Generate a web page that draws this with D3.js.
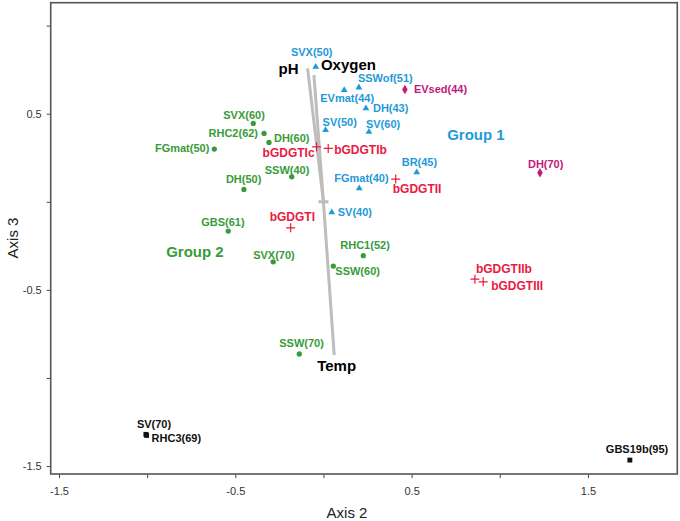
<!DOCTYPE html>
<html>
<head>
<meta charset="utf-8">
<script src="https://cdn.jsdelivr.net/npm/d3@7"></script>
<style>
    body { margin: 0; background: #fff; }
    svg { font-family: 'Liberation Sans', Arial, sans-serif; }
    .tick text { font-size: 11px; fill: #333; }
    .tick line { stroke: #444; }
    .ptLabel { font-size: 11px; font-weight: bold; }
    .redLabel { font-size: 12px; font-weight: bold; fill: #ea1a40; }
    .vecLabel { font-size: 15px; font-weight: bold; fill: #000; }
    .groupLabel { font-size: 15px; font-weight: bold; }
    .axisTitle { font-size: 15px; fill: #222; }
</style>
</head>
<body>
<svg width="680" height="521"></svg>
<script>
// **** data (Axis 2 vs Axis 3) ****

// Group 1 sites (blue triangles)
var blueNames = ['SVX(50)', 'SSWof(51)', 'EVmat(44)', 'DH(43)', 'SV(50)', 'SV(60)', 'BR(45)', 'FGmat(40)', 'SV(40)'];
var blueAxis2 = [-0.044, 0.201, 0.118, 0.241, 0.012, 0.258, 0.529, 0.203, 0.047];
var blueAxis3 = [0.766, 0.649, 0.634, 0.530, 0.407, 0.397, 0.167, 0.076, -0.060];

// sediment sites (magenta diamonds)
var magentaNames = ['EVsed(44)', 'DH(70)'];
var magentaAxis2 = [0.462, 1.228];
var magentaAxis3 = [0.638, 0.165];

// Group 2 sites (green dots)
var greenNames = ['SVX(60)', 'RHC2(62)', 'DH(60)', 'FGmat(50)', 'SSW(40)', 'DH(50)', 'GBS(61)', 'SVX(70)', 'RHC1(52)', 'SSW(60)', 'SSW(70)'];
var greenAxis2 = [-0.398, -0.337, -0.309, -0.619, -0.180, -0.451, -0.540, -0.285, 0.226, 0.056, -0.137];
var greenAxis3 = [0.445, 0.388, 0.337, 0.299, 0.142, 0.070, -0.166, -0.341, -0.306, -0.365, -0.864];

// outlier sites (black squares)
var blackNames = ['SV(70)', 'RHC3(69)', 'GBS19b(95)'];
var blackAxis2 = [-1.007, -1.003, 1.738];
var blackAxis3 = [-1.320, -1.326, -1.466];

// compounds (red crosses)
var redNames = ['bGDGTIc', 'bGDGTIb', 'bGDGTII', 'bGDGTI', 'bGDGTIIb', 'bGDGTIII'];
var redAxis2 = [-0.039, 0.027, 0.410, -0.186, 0.859, 0.906];
var redAxis3 = [0.312, 0.303, 0.129, -0.148, -0.439, -0.454];

// environmental vectors
var vectorNames = ['pH', 'Oxygen', 'Temp'];
var vectorAxis2 = [-0.090, -0.054, 0.061];
var vectorAxis3 = [0.757, 0.719, -0.870];

// group annotations
var groupNames = ['Group 1', 'Group 2'];
var groupAxis2 = [0.865, -0.729];
var groupAxis3 = [0.384, -0.284];

// tick values
var xTicks = [-1.5, -1, -0.5, 0, 0.5, 1, 1.5];
var xTickLabels = ['-1.5', '', '-0.5', '', '0.5', '', '1.5'];
var yTicks = [-1.5, -1, -0.5, 0, 0.5, 1];
var yTickLabels = ['-1.5', '', '-0.5', '', '0.5', ''];

// label placement relative to the marker: [dx, dy, anchor]
var labelPos = {
    'SVX(50)': [-4, -15, 'middle'], 'SSWof(51)': [-1, -9, 'start'], 'EVmat(44)': [-24, 8, 'start'],
    'DH(43)': [7, 0, 'start'], 'SV(50)': [-3, -8, 'start'], 'SV(60)': [-3, -8, 'start'],
    'BR(45)': [-15, -10, 'start'], 'FGmat(40)': [-25, -10, 'start'], 'SV(40)': [6, 0, 'start'],
    'EVsed(44)': [9, 0, 'start'], 'DH(70)': [-12, -9, 'start'],
    'SVX(60)': [-30, -8, 'start'], 'RHC2(62)': [-6, 0, 'end'], 'DH(60)': [5, -4, 'start'],
    'FGmat(50)': [-5, -1, 'end'], 'SSW(40)': [-27, -7, 'start'], 'DH(50)': [-18, -10, 'start'],
    'GBS(61)': [-27, -9, 'start'], 'SVX(70)': [-20, -7, 'start'], 'RHC1(52)': [-23, -11, 'start'],
    'SSW(60)': [2, 5, 'start'], 'SSW(70)': [-20, -11, 'start'],
    'SV(70)': [-9, -10, 'start'], 'RHC3(69)': [5, 3, 'start'], 'GBS19b(95)': [-24, -11, 'start'],
    'bGDGTIc': [-2, 6, 'end'], 'bGDGTIb': [6, 1, 'start'], 'bGDGTII': [-3, 10, 'start'],
    'bGDGTI': [-21, -11, 'start'], 'bGDGTIIb': [1, -10, 'start'], 'bGDGTIII': [8, 4, 'start'],
    'pH': [-9, 0, 'end'], 'Oxygen': [7, -11, 'start'], 'Temp': [-17, 11, 'start']
};

var svg = d3.select('svg');

// plot frame in pixels
var frame = { l: 50.7, r: 677.3, t: 2.7, b: 474 };

var xScale = d3.scaleLinear().domain([-1.547, 2.007]).range([frame.l, frame.r]);
var yScale = d3.scaleLinear().domain([-1.545, 1.13]).range([frame.b, frame.t]);

function zipSeries(names, xs, ys) {
    return names.map(function(n, i) {
        return { name: n, x: xs[i], y: ys[i] };
    });
}

// **** axes ****

var xAxis = svg.append('g').attr('class', 'x axis')
    .attr('transform', `translate(0, ${frame.b})`)
    .call(d3.axisBottom(xScale).tickValues(xTicks)
        .tickFormat(function(d, i) { return xTickLabels[i]; })
        .tickSize(4).tickSizeOuter(0).tickPadding(9));
xAxis.select('.domain').remove();

var yAxis = svg.append('g').attr('class', 'y axis')
    .attr('transform', `translate(${frame.l}, 0)`)
    .call(d3.axisLeft(yScale).tickValues(yTicks)
        .tickFormat(function(d, i) { return yTickLabels[i]; })
        .tickSize(4).tickSizeOuter(0).tickPadding(5));
yAxis.select('.domain').remove();

svg.append('rect')
    .attr('x', frame.l).attr('y', frame.t)
    .attr('width', frame.r - frame.l).attr('height', frame.b - frame.t)
    .attr('fill', 'none').attr('stroke', '#555').attr('stroke-width', 1.6);

svg.append('text').attr('class', 'axisTitle')
    .attr('text-anchor', 'middle')
    .attr('x', 347).attr('y', 518)
    .text('Axis 2');

svg.append('text').attr('class', 'axisTitle')
    .attr('text-anchor', 'middle')
    .attr('transform', 'translate(18, 238) rotate(-90)')
    .text('Axis 3');

// **** environmental vectors ****

var vectors = zipSeries(vectorNames, vectorAxis2, vectorAxis3);

svg.selectAll('.vector').data(vectors).enter()
    .append('line').attr('class', 'vector')
    .attr('x1', xScale(0)).attr('y1', yScale(0))
    .attr('x2', d => xScale(d.x)).attr('y2', d => yScale(d.y))
    .attr('stroke', '#bdbdbd').attr('stroke-width', 3);

// centroid marker
svg.append('line')
    .attr('x1', xScale(0) - 5).attr('x2', xScale(0) + 5)
    .attr('y1', yScale(0)).attr('y2', yScale(0))
    .attr('stroke', '#bdbdbd').attr('stroke-width', 3);

function addLabels(data, cls, color) {
    svg.selectAll('.lbl-' + cls).data(data).enter()
        .append('text')
        .attr('class', cls)
        .attr('fill', color)
        .attr('text-anchor', d => labelPos[d.name][2])
        .attr('x', d => xScale(d.x) + labelPos[d.name][0])
        .attr('y', d => yScale(d.y) + labelPos[d.name][1])
        .attr('dy', '0.36em')
        .text(d => d.name);
}

addLabels(vectors, 'vecLabel', '#000');

// **** site markers ****

function addSymbols(data, type, size, color) {
    svg.selectAll(null).data(data).enter()
        .append('path')
        .attr('d', d3.symbol().type(type).size(size))
        .attr('transform', d => `translate(${xScale(d.x)}, ${yScale(d.y)})`)
        .attr('fill', color);
}

var blueSites = zipSeries(blueNames, blueAxis2, blueAxis3);
var magentaSites = zipSeries(magentaNames, magentaAxis2, magentaAxis3);
var greenSites = zipSeries(greenNames, greenAxis2, greenAxis3);
var blackSites = zipSeries(blackNames, blackAxis2, blackAxis3);
var compounds = zipSeries(redNames, redAxis2, redAxis3);

addSymbols(blueSites, d3.symbolTriangle, 20, '#1f9ad8');
addSymbols(magentaSites, d3.symbolDiamond, 26, '#c2187c');
addSymbols(greenSites, d3.symbolCircle, 22, '#389b3a');
addSymbols(blackSites, d3.symbolSquare, 24, '#111');

// compounds drawn as thin crosses
svg.selectAll('.compound').data(compounds).enter()
    .append('path').attr('class', 'compound')
    .attr('d', 'M-4.5,0H4.5M0,-4.5V4.5')
    .attr('transform', d => `translate(${xScale(d.x)}, ${yScale(d.y)})`)
    .attr('stroke', '#ea1a40').attr('stroke-width', 1.2).attr('fill', 'none');

addLabels(blueSites, 'ptLabel', '#1f9ad8');
addLabels(magentaSites, 'ptLabel', '#c2187c');
addLabels(greenSites, 'ptLabel', '#389b3a');
addLabels(blackSites, 'ptLabel', '#111');
addLabels(compounds, 'redLabel', '#ea1a40');

// **** group annotations ****

var groups = zipSeries(groupNames, groupAxis2, groupAxis3);
var groupColors = ['#1f9ad8', '#389b3a'];

svg.selectAll('.groupLabel').data(groups).enter()
    .append('text').attr('class', 'groupLabel')
    .attr('text-anchor', 'middle')
    .attr('x', d => xScale(d.x)).attr('y', d => yScale(d.y))
    .attr('dy', '0.36em')
    .attr('fill', (d, i) => groupColors[i])
    .text(d => d.name);
</script>
</body>
</html>
